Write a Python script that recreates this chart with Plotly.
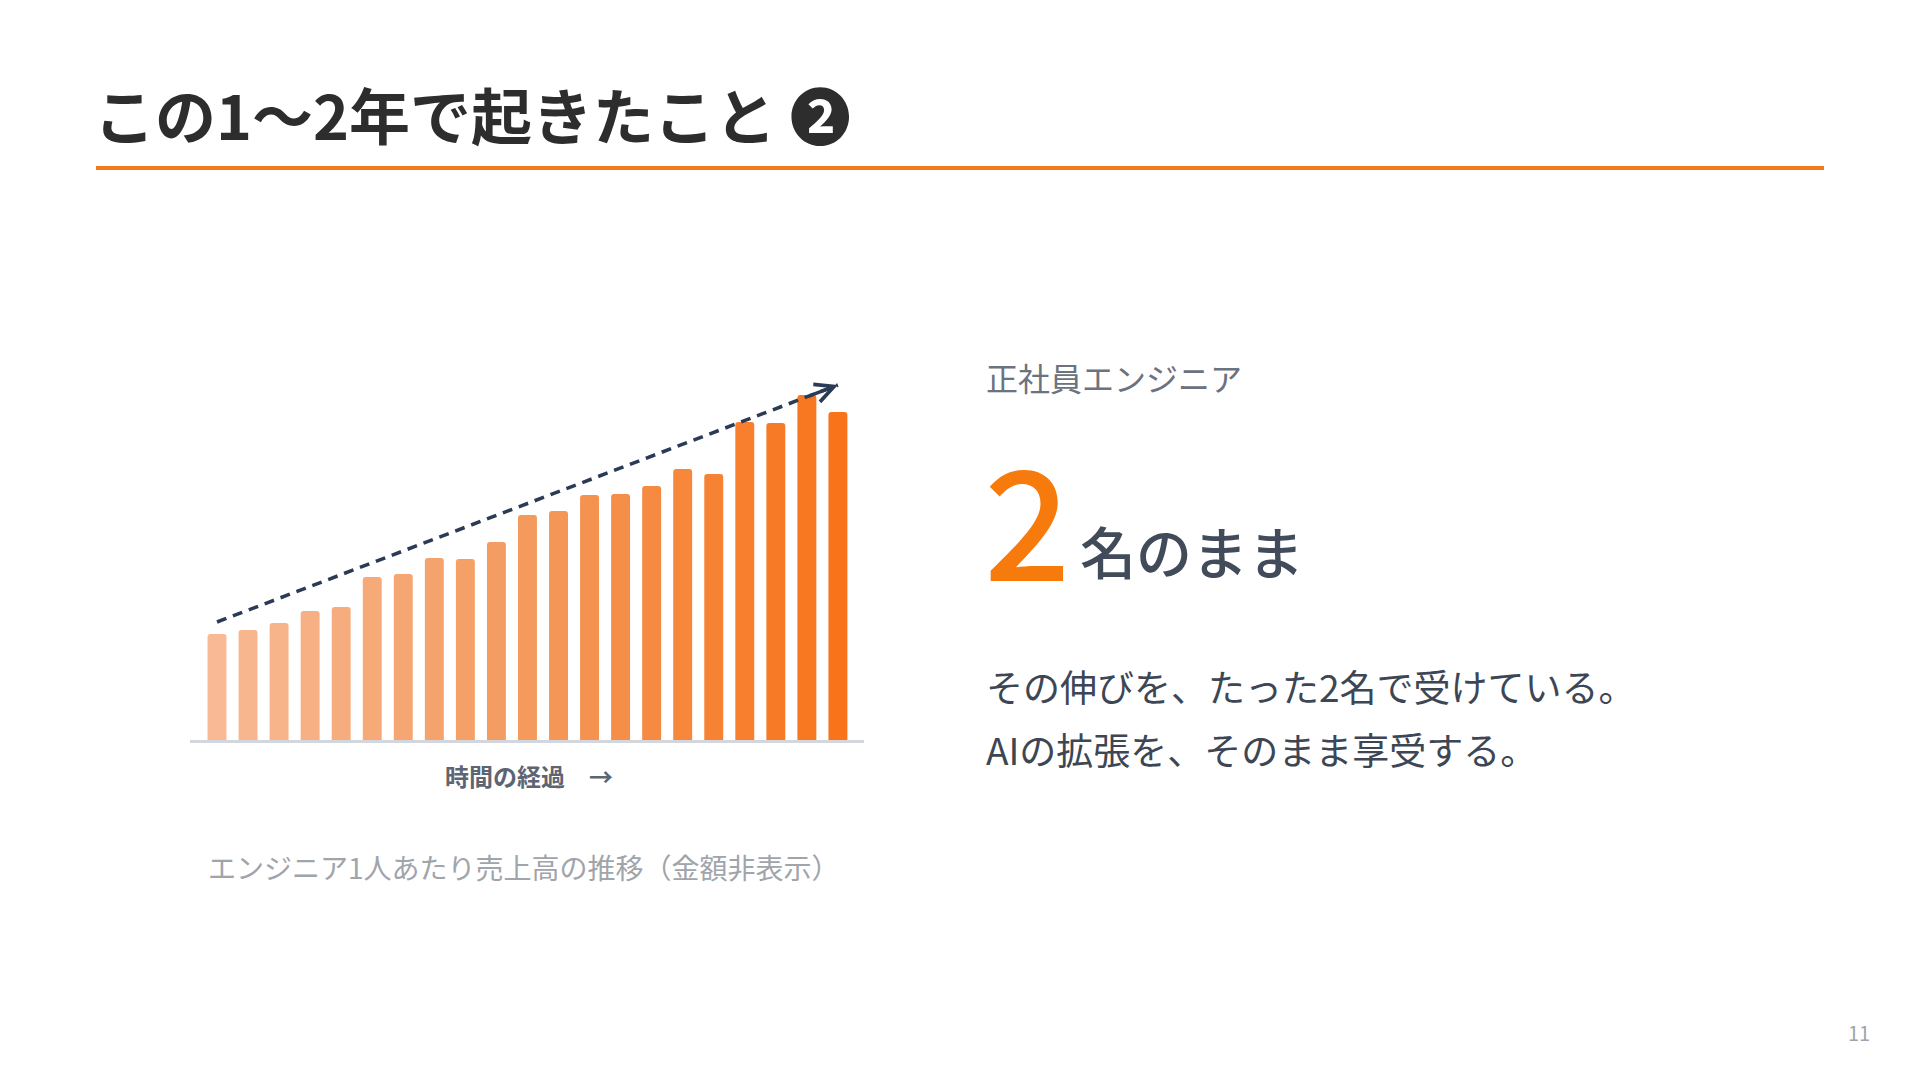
import plotly.graph_objects as go

# revenue per engineer over time (amounts hidden, relative heights only)
periods = list(range(1, 22))
revenue = [106, 110, 117, 129, 133, 163, 166, 182, 181, 198, 225,
           229, 245, 246, 254, 271, 266, 318, 317, 345, 328]
trend_x = [1, 21]
trend_y = [118, 355]

title_text = "この1～2年で起きたこと ❷"
axis_label = "時間の経過　→"
caption = "エンジニア1人あたり売上高の推移（金額非表示）"
sub_label = "正社員エンジニア"
big_number = "2"
big_suffix = "名のまま"
body_lines = ["その伸びを、たった2名で受けている。", "AIの拡張を、そのまま享受する。"]
page_no = "11"

W, H = 1920, 1080
OFF = 8  # page body margin around the plot div
FONT = "Noto Sans CJK JP"


def px_x(v):
    return (v - OFF) / W


def px_y(v):
    return 1 - (v - OFF) / H


fig = go.Figure()

fig.add_trace(go.Bar(
    x=periods,
    y=revenue,
    width=0.61,
    marker=dict(
        color=periods,
        colorscale=[[0, "#f8b994"], [0.5, "#f49a5c"], [1, "#f8731a"]],
        cornerradius=3,
        line=dict(width=0),
    ),
    hoverinfo="skip",
))

fig.add_trace(go.Scatter(
    x=trend_x,
    y=trend_y,
    mode="lines",
    line=dict(color="#2c3b55", width=3.5, dash="10px,7px"),
    hoverinfo="skip",
))

# arrow head at the end of the trend line
fig.add_annotation(
    x=trend_x[-1], y=trend_y[-1], xref="x", yref="y",
    ax=-30, ay=11.4, axref="pixel", ayref="pixel",
    showarrow=True, arrowhead=5, arrowsize=1.05, arrowwidth=3.5,
    arrowcolor="#2c3b55", text="", standoff=0,
)

fig.update_layout(
    width=W, height=H,
    margin=dict(l=0, r=0, t=0, b=0),
    paper_bgcolor="white",
    plot_bgcolor="white",
    showlegend=False,
    font=dict(family=FONT),
    xaxis=dict(
        domain=[px_x(190), px_x(864)],
        range=[0.13, 21.84],
        showgrid=False, zeroline=False, showticklabels=False, ticks="",
        showline=True, linecolor="#d3d6dc", linewidth=3,
    ),
    yaxis=dict(
        domain=[px_y(740), px_y(380)],
        range=[0, 360],
        showgrid=False, zeroline=False, showticklabels=False, ticks="",
        showline=False,
    ),
)

# title + orange rule
fig.add_annotation(
    x=px_x(92), y=px_y(114), xref="paper", yref="paper",
    xanchor="left", yanchor="middle", showarrow=False,
    text=title_text,
    font=dict(family=FONT, size=61, color="#2d2d2d", weight=600),
)
fig.add_shape(
    type="line", xref="paper", yref="paper",
    x0=px_x(96), x1=px_x(1824), y0=px_y(168), y1=px_y(168),
    line=dict(color="#f07a1e", width=4),
)

# chart labels
fig.add_annotation(
    x=px_x(529), y=px_y(775), xref="paper", yref="paper",
    xanchor="center", yanchor="middle", showarrow=False,
    text="<b>" + axis_label + "</b>",
    font=dict(family=FONT, size=24, color="#5d6573"),
)
fig.add_annotation(
    x=px_x(206), y=px_y(867), xref="paper", yref="paper",
    xanchor="left", yanchor="middle", showarrow=False,
    text=caption,
    font=dict(family=FONT, size=28, color="#a0a4ab"),
)

# right-hand message
fig.add_annotation(
    x=px_x(984), y=px_y(377), xref="paper", yref="paper",
    xanchor="left", yanchor="middle", showarrow=False,
    text=sub_label,
    font=dict(family=FONT, size=32, color="#6b7280"),
)
fig.add_annotation(
    x=px_x(982), y=px_y(515), xref="paper", yref="paper",
    xanchor="left", yanchor="middle", showarrow=False,
    text=big_number,
    font=dict(family=FONT, size=152, color="#f77a0c", weight=500),
)
fig.add_annotation(
    x=px_x(1078), y=px_y(549), xref="paper", yref="paper",
    xanchor="left", yanchor="middle", showarrow=False,
    text=big_suffix,
    font=dict(family=FONT, size=56, color="#414b59", weight=500),
)
for i, line in enumerate(body_lines):
    fig.add_annotation(
        x=px_x(984), y=px_y(686 + 63 * i), xref="paper", yref="paper",
        xanchor="left", yanchor="middle", showarrow=False,
        text=line,
        font=dict(family=FONT, size=37, color="#3d4654"),
    )

fig.add_annotation(
    x=px_x(1872), y=px_y(1032), xref="paper", yref="paper",
    xanchor="right", yanchor="middle", showarrow=False,
    text=page_no,
    font=dict(family=FONT, size=20, color="#a0a4ab"),
)

fig.write_html("out.html")
